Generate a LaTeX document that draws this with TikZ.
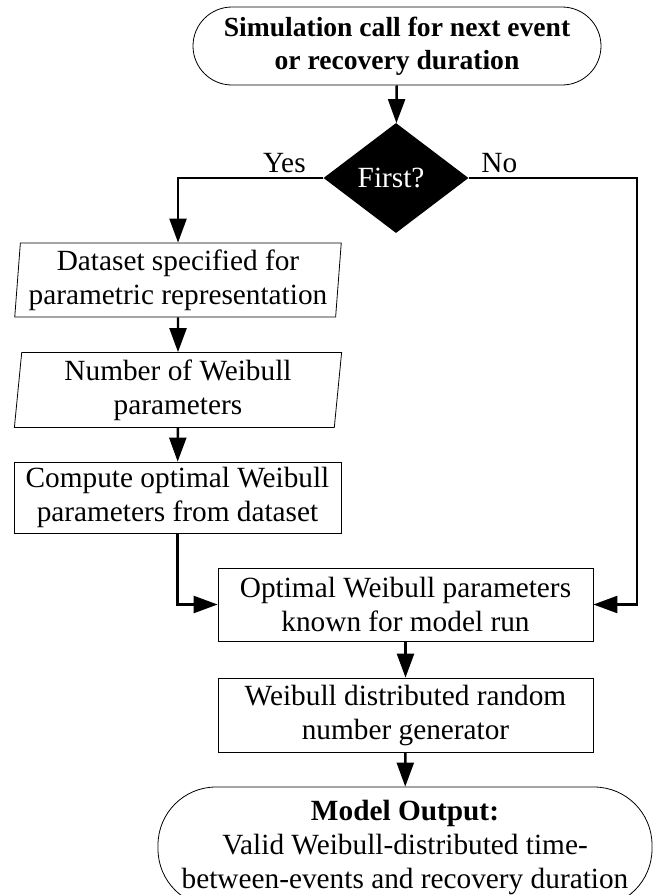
\documentclass[tikz,border=0pt]{standalone}
\usepackage{fontspec}
\setmainfont{Liberation Serif}
\usetikzlibrary{arrows.meta,shapes.geometric}

\begin{document}
\begin{tikzpicture}[x=1pt, y=-1pt,
    every node/.style = { align = center, inner sep = 0pt,
                          font = \fontsize{29.3}{34}\selectfont },
    terminal/.style = { draw, line width = .8pt, rounded corners = 39pt },
    procbox/.style  = { draw, line width = .8pt, shape = rectangle },
    inputbox/.style = { draw, line width = .8pt, shape = trapezium,
                        trapezium left angle = 85, trapezium right angle = 95,
                        trapezium stretches = true },
    decision/.style = { fill = black, text = white, shape = diamond,
                        minimum width = 145pt, minimum height = 110pt },
    flow/.style     = { line width = 2.4pt,
                        -{Triangle[length = 24pt, width = 17pt]} }]
    \clip (0,0) rectangle (654,895);

    \node [terminal, minimum width = 408pt, minimum height = 78pt,
           font = \fontsize{27.6}{33}\selectfont\bfseries] (start) at (397,46)
      { Simulation call for next event\\ or recovery duration };
    \node [decision] (first) at (396,178) { First? };
    \node (yes) at (288,163) { Yes };
    \node (no)  at (503,163) { No };

    \node [inputbox, minimum width = 328pt, minimum height = 74pt] (dataset) at (178,280)
      { Dataset specified for\\ parametric representation };
    \node [inputbox, minimum width = 328pt, minimum height = 75pt] (number) at (178,390)
      { Number of Weibull\\ parameters };
    \node [procbox, minimum width = 327pt, minimum height = 71pt] (compute) at (177.5,497.5)
      { Compute optimal Weibull\\ parameters from dataset };
    \node [procbox, minimum width = 375pt, minimum height = 73pt] (known) at (405.5,604.5)
      { Optimal Weibull parameters\\ known for model run };
    \node [procbox, minimum width = 375pt, minimum height = 74pt] (rng) at (405.5,715)
      { Weibull distributed random\\ number generator };
    \node [terminal, rounded corners = 58pt, minimum width = 494pt, minimum height = 120pt]
      (output) at (405,847)
      { \textbf{Model Output:}\\ Valid Weibull-distributed time-\\ between-events and recovery duration };

    \coordinate (nocorner) at (637,178);

    \draw [flow] (start) -- (first);
    \draw [flow] (first.west) -| (dataset.north);
    \draw [flow] (first.east) -- (nocorner) |- (known.east);
    \draw [flow] (dataset) -- (number);
    \draw [flow] (number) -- (compute);
    \draw [flow] (compute.south) |- (known.west);
    \draw [flow] (known) -- (rng);
    \draw [flow] (rng) -- (output);
\end{tikzpicture}
\end{document}
